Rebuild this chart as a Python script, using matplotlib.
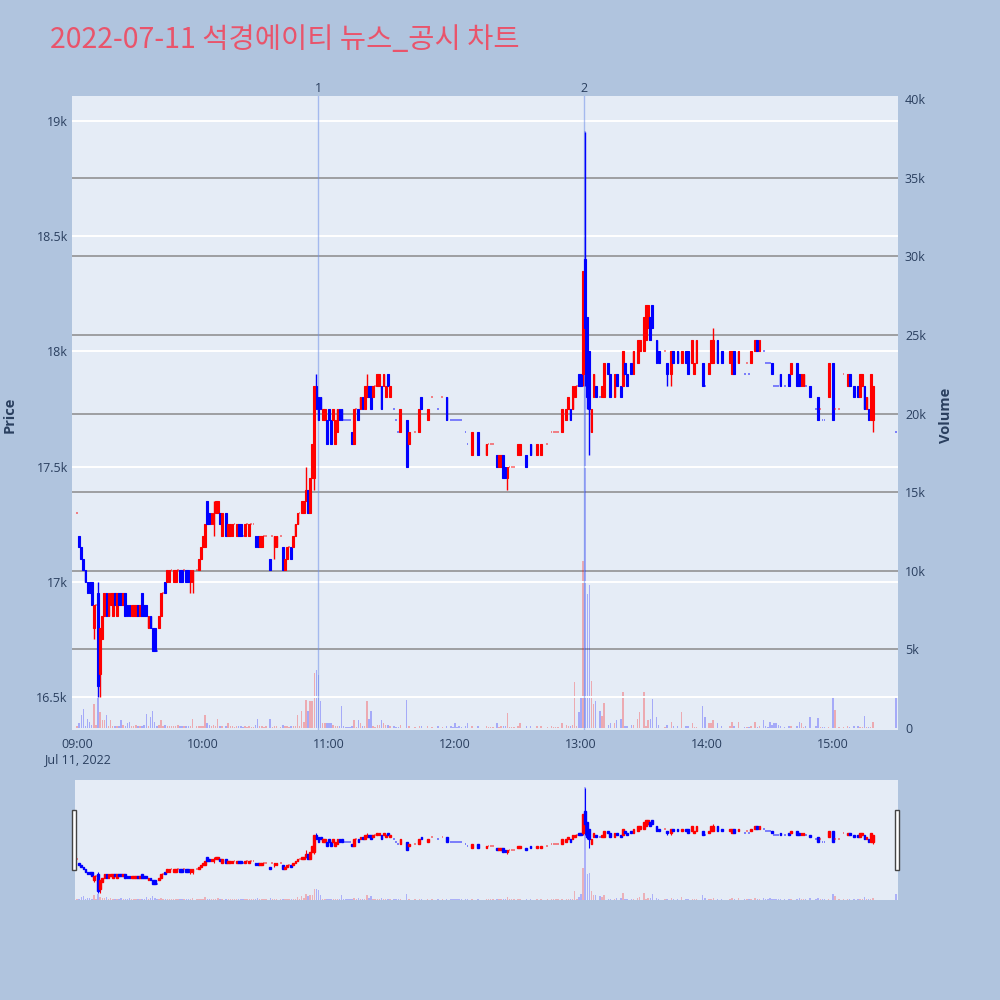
import matplotlib
matplotlib.use("Agg")
import matplotlib.pyplot as plt
from matplotlib.patches import Rectangle
from matplotlib.transforms import blended_transform_factory

plt.rcParams["font.family"] = ["Open Sans", "Noto Sans CJK KR", "DejaVu Sans"]

TITLE = "2022-07-11 석경에이티 뉴스_공시 차트"
TICK_MINUTES = [0, 60, 120, 180, 240, 300, 360]
TICK_LABELS = ["09:00\nJul 11, 2022", "10:00", "11:00", "12:00", "13:00", "14:00", "15:00"]
PRICE_TICKS = [16500, 17000, 17500, 18000, 18500, 19000]
PRICE_LABELS = ["16.5k", "17k", "17.5k", "18k", "18.5k", "19k"]
VOLUME_TICKS = [0, 5000, 10000, 15000, 20000, 25000, 30000, 35000, 40000]
VOLUME_LABELS = ["0", "5k", "10k", "15k", "20k", "25k", "30k", "35k", "40k"]
NEWS_MINUTES = [114.8, 241.4]
NEWS_LABELS = ["1", "2"]

# minutes after 09:00 (only minutes with trades)
MINUTE = [
    0, 1, 2, 3, 4, 5, 6, 7, 8, 9,
    10, 11, 12, 13, 14, 15, 16, 17, 18, 19,
    20, 21, 22, 23, 24, 25, 26, 27, 28, 29,
    30, 31, 32, 33, 34, 35, 36, 37, 38, 39,
    40, 41, 42, 43, 44, 45, 46, 47, 48, 49,
    50, 51, 52, 53, 54, 55, 57, 58, 59, 60,
    61, 62, 63, 64, 65, 66, 67, 68, 69, 71,
    72, 73, 74, 75, 76, 77, 78, 79, 80, 81,
    82, 83, 84, 85, 86, 87, 88, 89, 90, 92,
    93, 94, 95, 97, 98, 99, 100, 101, 102, 103,
    104, 105, 106, 107, 108, 109, 110, 111, 112, 113,
    114, 115, 116, 117, 118, 119, 120, 121, 122, 123,
    124, 125, 126, 127, 128, 129, 130, 131, 132, 133,
    134, 135, 136, 137, 138, 139, 140, 141, 142, 143,
    144, 145, 146, 147, 148, 149, 151, 152, 153, 154,
    157, 158, 161, 163, 164, 167, 169, 172, 174, 176,
    178, 179, 180, 181, 182, 183, 185, 186, 188, 191,
    195, 196, 197, 198, 200, 201, 202, 203, 204, 205,
    206, 207, 208, 210, 211, 214, 216, 219, 221, 224,
    226, 227, 228, 229, 231, 233, 234, 235, 236, 237,
    238, 239, 240, 241, 242, 243, 244, 245, 246, 247,
    249, 250, 251, 253, 254, 256, 257, 259, 260, 261,
    262, 264, 265, 267, 268, 270, 271, 272, 273, 274,
    276, 277, 280, 281, 283, 284, 286, 288, 290, 291,
    293, 294, 295, 298, 299, 301, 302, 303, 305, 307,
    311, 312, 313, 315, 318, 319, 320, 321, 323, 324,
    325, 327, 328, 329, 330, 331, 332, 333, 334, 335,
    337, 339, 340, 343, 344, 345, 346, 347, 349, 352,
    353, 354, 355, 356, 358, 360, 361, 363, 365, 367,
    368, 370, 372, 373, 374, 375, 376, 377, 378, 379,
    390,
]
OPEN = [
    17300, 17200, 17150, 17100, 17050, 17000, 17000, 17000, 16800, 16900,
    16950, 16600, 16750, 16850, 16950, 16850, 16900, 16850, 16950, 16850,
    16950, 16950, 16900, 16950, 16900, 16900, 16850, 16850, 16850, 16900,
    16850, 16950, 16900, 16900, 16800, 16850, 16800, 16800, 16700, 16800,
    16850, 16950, 17000, 17000, 17000, 17050, 17000, 17000, 17050, 17050,
    17050, 17050, 17050, 17050, 17000, 17000, 17050, 17050, 17100, 17150,
    17150, 17350, 17300, 17250, 17250, 17300, 17300, 17300, 17200, 17300,
    17200, 17200, 17200, 17250, 17200, 17250, 17250, 17200, 17200, 17250,
    17200, 17250, 17250, 17200, 17200, 17150, 17150, 17200, 17200, 17100,
    17200, 17150, 17150, 17200, 17150, 17050, 17100, 17150, 17150, 17150,
    17200, 17250, 17300, 17300, 17300, 17350, 17400, 17300, 17450, 17450,
    17850, 17800, 17800, 17700, 17700, 17700, 17750, 17700, 17700, 17600,
    17650, 17750, 17750, 17700, 17700, 17700, 17700, 17650, 17600, 17750,
    17750, 17750, 17800, 17750, 17800, 17850, 17850, 17800, 17850, 17850,
    17850, 17850, 17850, 17800, 17900, 17800, 17750, 17700, 17650, 17650,
    17700, 17600, 17650, 17650, 17800, 17700, 17800, 17750, 17800, 17800,
    17700, 17700, 17700, 17700, 17700, 17700, 17650, 17600, 17550, 17650,
    17550, 17600, 17600, 17600, 17550, 17500, 17500, 17550, 17500, 17450,
    17500, 17500, 17500, 17550, 17550, 17550, 17600, 17550, 17550, 17600,
    17650, 17650, 17650, 17650, 17650, 17700, 17750, 17750, 17750, 17800,
    17850, 17900, 17900, 17900, 18400, 18150, 18000, 17650, 17800, 17850,
    17800, 17800, 17800, 17950, 17900, 17800, 17900, 17850, 17850, 17950,
    17900, 17950, 17900, 17950, 18000, 18000, 18050, 18100, 18150, 18200,
    18050, 18000, 18000, 17950, 17900, 18000, 18000, 17950, 18000, 18000,
    17950, 17900, 17950, 17950, 17850, 17900, 17950, 17950, 18050, 18000,
    17950, 17900, 18000, 17950, 17900, 17950, 17900, 17950, 18000, 18050,
    18000, 18000, 17950, 17950, 17950, 17950, 17850, 17850, 17850, 17900,
    17850, 17900, 17900, 17950, 17900, 17850, 17850, 17850, 17850, 17750,
    17800, 17750, 17700, 17700, 17800, 17950, 17750, 17750, 17900, 17850,
    17900, 17850, 17850, 17800, 17850, 17850, 17750, 17750, 17700, 17700,
    17650,
]
CLOSE = [
    17300, 17150, 17100, 17050, 17000, 16950, 16950, 16900, 16900, 16900,
    16550, 16800, 16850, 16950, 16850, 16950, 16950, 16950, 16900, 16950,
    16900, 16900, 16950, 16850, 16850, 16850, 16900, 16900, 16900, 16850,
    16900, 16850, 16850, 16850, 16850, 16800, 16700, 16700, 16700, 16850,
    16950, 16950, 16950, 17050, 17050, 17050, 17050, 17050, 17050, 17000,
    17000, 17050, 17000, 17000, 17050, 17050, 17050, 17100, 17150, 17200,
    17250, 17250, 17250, 17300, 17300, 17350, 17350, 17250, 17300, 17200,
    17250, 17250, 17250, 17250, 17250, 17200, 17200, 17200, 17250, 17250,
    17250, 17250, 17250, 17150, 17150, 17200, 17200, 17200, 17200, 17050,
    17200, 17200, 17200, 17200, 17050, 17100, 17150, 17150, 17100, 17200,
    17250, 17300, 17300, 17350, 17350, 17400, 17300, 17450, 17600, 17850,
    17750, 17700, 17750, 17750, 17750, 17600, 17700, 17600, 17750, 17700,
    17750, 17700, 17700, 17700, 17700, 17700, 17700, 17600, 17750, 17750,
    17700, 17800, 17750, 17850, 17850, 17800, 17750, 17850, 17850, 17900,
    17900, 17750, 17900, 17850, 17850, 17850, 17750, 17700, 17650, 17750,
    17500, 17650, 17650, 17750, 17750, 17750, 17800, 17750, 17800, 17700,
    17700, 17700, 17700, 17700, 17700, 17700, 17650, 17600, 17650, 17550,
    17600, 17600, 17600, 17600, 17500, 17550, 17550, 17450, 17450, 17500,
    17500, 17500, 17500, 17600, 17600, 17500, 17550, 17600, 17600, 17600,
    17650, 17650, 17650, 17650, 17750, 17750, 17800, 17700, 17850, 17850,
    17850, 17850, 17850, 18350, 18100, 17800, 17750, 17750, 17900, 17800,
    17800, 17850, 17950, 17900, 17800, 17900, 17850, 17800, 18000, 17900,
    17850, 17900, 18000, 18050, 18050, 18150, 18200, 18200, 18050, 18100,
    17950, 17950, 18000, 17900, 18000, 17950, 17950, 18000, 17950, 17900,
    18050, 17950, 18050, 17850, 17850, 17950, 18050, 18050, 17950, 17950,
    18000, 18000, 17900, 18000, 17900, 17950, 17900, 18000, 18050, 18000,
    18050, 18000, 17950, 17950, 17950, 17900, 17850, 17850, 17850, 17850,
    17850, 17850, 17950, 17850, 17850, 17900, 17900, 17850, 17800, 17750,
    17700, 17750, 17700, 17700, 17950, 17700, 17750, 17750, 17900, 17900,
    17850, 17800, 17800, 17900, 17900, 17750, 17800, 17700, 17900, 17850,
    17650,
]
VOLUME = [
    100, 300, 800, 1200, 100, 600, 400, 200, 1500, 200,
    1900, 1000, 500, 500, 800, 100, 500, 100, 100, 100,
    100, 500, 200, 100, 300, 400, 100, 100, 200, 150,
    100, 100, 200, 900, 150, 700, 1100, 400, 100, 200,
    500, 100, 200, 100, 100, 100, 100, 100, 200, 100,
    100, 100, 100, 100, 100, 600, 100, 100, 100, 100,
    800, 300, 200, 100, 200, 100, 600, 100, 100, 100,
    300, 100, 100, 50, 100, 100, 100, 50, 100, 50,
    100, 50, 50, 200, 600, 100, 100, 50, 100, 600,
    50, 100, 100, 50, 200, 100, 100, 50, 100, 100,
    100, 800, 100, 1100, 400, 1800, 1100, 1700, 1700, 3500,
    3700, 3400, 1700, 300, 300, 300, 300, 300, 200, 100,
    100, 100, 1400, 100, 50, 50, 50, 100, 500, 50,
    500, 300, 100, 100, 1700, 600, 1100, 100, 50, 200,
    200, 500, 300, 200, 200, 100, 100, 50, 50, 200,
    1750, 100, 50, 100, 100, 100, 50, 100, 50, 100,
    100, 50, 300, 50, 100, 50, 100, 300, 100, 100,
    100, 50, 50, 50, 350, 50, 150, 100, 100, 980,
    50, 50, 50, 100, 300, 100, 100, 100, 100, 50,
    100, 50, 50, 50, 300, 200, 150, 150, 200, 2900,
    100, 1000, 2000, 10600, 38000, 8500, 9100, 3000, 1500, 1700,
    1100, 750, 1600, 200, 300, 300, 500, 550, 2270, 100,
    150, 200, 200, 600, 1000, 2270, 100, 500, 600, 1850,
    700, 200, 50, 200, 400, 100, 100, 1000, 100, 100,
    350, 50, 50, 1400, 700, 300, 350, 500, 300, 100,
    100, 400, 100, 400, 50, 50, 50, 150, 400, 50,
    100, 500, 100, 50, 400, 200, 300, 350, 200, 150,
    50, 100, 150, 100, 400, 300, 50, 100, 700, 100,
    650, 50, 50, 50, 50, 1950, 1150, 50, 50, 100,
    50, 150, 100, 50, 50, 750, 50, 50, 50, 400,
    2000,
]
# wicks that reach past the candle body
HIGH_WICK = {10: 17000, 65: 17350, 109: 17500, 114: 17900, 138: 17900,
             242: 18950, 303: 18100}
LOW_WICK = {8: 16750, 10: 16500, 11: 16500, 54: 16950, 55: 16950, 65: 17200,
            94: 17100, 113: 17400, 205: 17400, 241: 17850, 242: 17850,
            243: 17750, 244: 17550, 281: 17850, 283: 17850, 379: 17650}

UP = "#FF0000"
DOWN = "#0000FF"
TEXT = "#2a3f5f"
PLOT_BG = "#E5ECF6"
FIG_BG = "#B0C4DE"

highs = [max(o, c, HIGH_WICK.get(m, 0)) for m, o, c in zip(MINUTE, OPEN, CLOSE)]
lows = [min(o, c, LOW_WICK.get(m, 10 ** 6)) for m, o, c in zip(MINUTE, OPEN, CLOSE)]

colors = []
prev_close, prev_col = None, UP
for o, c in zip(OPEN, CLOSE):
    if c > o:
        col = UP
    elif c < o:
        col = DOWN
    elif prev_close is None or c > prev_close:
        col = UP
    elif c < prev_close:
        col = DOWN
    else:
        col = prev_col
    colors.append(col)
    prev_close, prev_col = c, col


def draw_candles(ax, body_w, wick_lw, edge_lw):
    ax.vlines(MINUTE, lows, highs, colors=colors, linewidth=wick_lw, zorder=3)
    bodies = [(m, o, c, col) for m, o, c, col in zip(MINUTE, OPEN, CLOSE, colors) if o != c]
    ax.bar([b[0] for b in bodies], [abs(b[2] - b[1]) for b in bodies],
           bottom=[min(b[1], b[2]) for b in bodies], width=body_w,
           color=[b[3] for b in bodies], edgecolor=[b[3] for b in bodies],
           linewidth=edge_lw, zorder=3)
    dojis = [(m, o, col) for m, o, c, col in zip(MINUTE, OPEN, CLOSE, colors) if o == c]
    ax.hlines([d[1] for d in dojis], [d[0] - body_w / 2 for d in dojis],
              [d[0] + body_w / 2 for d in dojis], colors=[d[2] for d in dojis],
              linewidth=1.2, alpha=0.55, zorder=3)


fig = plt.figure(figsize=(10, 10), dpi=100, facecolor=FIG_BG)
fig.text(0.05, 0.9595, TITLE, fontsize=20.5, color="#E9546B", va="center",
         family=["Noto Sans CJK KR", "DejaVu Sans"])

rect = [0.072, 0.270, 0.826, 0.634]
ax_vol = fig.add_axes(rect)
ax_vol.set_facecolor(PLOT_BG)
for v in VOLUME_TICKS[1:-1]:
    ax_vol.axhline(v, color="#8a8a8a", linewidth=1.1, zorder=1)
ax_vol.bar(MINUTE, VOLUME, width=0.7, color=colors, alpha=0.28, linewidth=0, zorder=2)
ax_vol.set_ylim(-127, 40204)
ax_vol.set_yticks(VOLUME_TICKS, VOLUME_LABELS)
ax_vol.yaxis.tick_right()
ax_vol.yaxis.set_label_position("right")

ax = fig.add_axes(rect, sharex=ax_vol)
ax.patch.set_visible(False)
ax.grid(axis="y", color="white", linewidth=1.4, zorder=0)
draw_candles(ax, body_w=0.85, wick_lw=1.0, edge_lw=0.8)
ax.set_ylim(16357, 19108)
ax.set_yticks(PRICE_TICKS, PRICE_LABELS)
ax.set_xlim(-2.4, 391)
ax.set_xticks(TICK_MINUTES, TICK_LABELS)

trans = blended_transform_factory(ax.transData, ax.transAxes)
for m, lab in zip(NEWS_MINUTES, NEWS_LABELS):
    ax.axvline(m, color="#7090e8", linewidth=1.0, alpha=0.55, zorder=2)
    ax.text(m, 1.002, lab, transform=trans, ha="center", va="bottom",
            fontsize=9, color=TEXT)

for a in (ax, ax_vol):
    for s in a.spines.values():
        s.set_visible(False)
    a.tick_params(length=0, labelsize=9, labelcolor=TEXT)
ax.tick_params(axis="y", pad=3)
ax.tick_params(axis="x", pad=6)
ax_vol.tick_params(axis="y", pad=5)
ax_vol.tick_params(axis="x", labelbottom=False)

fig.text(0.010, 0.585, "Price", rotation=90, fontsize=10.5, fontweight="bold",
         color=TEXT, va="center", ha="center")
fig.text(0.946, 0.585, "Volume", rotation=90, fontsize=10.5, fontweight="bold",
         color=TEXT, va="center", ha="center")

# range slider
srect = [0.075, 0.100, 0.823, 0.120]
sl_vol = fig.add_axes(srect)
sl_vol.set_facecolor(PLOT_BG)
sl_vol.bar(MINUTE, VOLUME, width=0.7, color=colors, alpha=0.25, linewidth=0)
sl_vol.set_ylim(-127, 40204)
sl = fig.add_axes(srect, sharex=sl_vol)
sl.patch.set_visible(False)
draw_candles(sl, body_w=0.85, wick_lw=0.8, edge_lw=1.0)
sl.set_ylim(16337, 19133)
sl.set_xlim(-1, 391)
for a in (sl, sl_vol):
    a.set_xticks([])
    a.set_yticks([])
    for s in a.spines.values():
        s.set_visible(False)
for hx in (0.0735, 0.8965):
    fig.add_artist(Rectangle((hx - 0.002, 0.130), 0.004, 0.060, transform=fig.transFigure,
                             facecolor="white", edgecolor="#444444", linewidth=1))

fig.savefig("out.png", dpi=100, facecolor=FIG_BG)
